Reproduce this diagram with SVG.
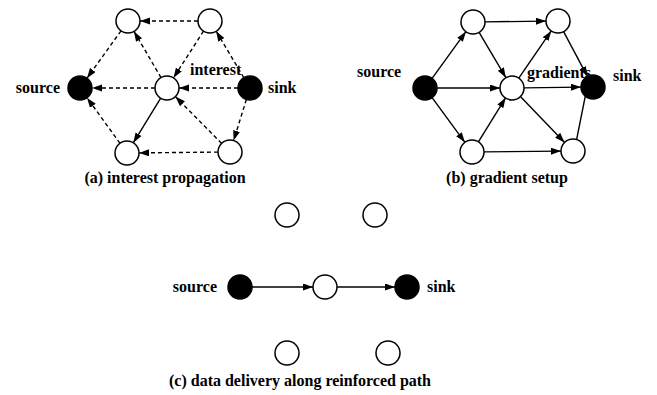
<svg xmlns="http://www.w3.org/2000/svg" width="657" height="395" viewBox="0 0 657 395">
<style>
.n{fill:#fff;stroke:#000;stroke-width:1.5}
.f{fill:#000;stroke:#000;stroke-width:1.5}
.e{fill:none;stroke:#000;stroke-width:1.4;marker-end:url(#ah)}
.d{stroke-dasharray:4 3}
text{font-family:'Liberation Serif','DejaVu Serif',serif;font-size:16px;font-weight:bold;fill:#000}
</style>
<defs>
<marker id="ah" markerUnits="userSpaceOnUse" markerWidth="10" markerHeight="8" refX="10" refY="3.5" orient="auto">
<path d="M0,0 L10,3.5 L0,7 z" fill="#000"/>
</marker>
</defs>
<rect width="657" height="395" fill="#fff"/>
<g id="connectors">
<line class="e d" x1="198" y1="21" x2="140" y2="21"/>
<line class="e d" x1="121" y1="30.8" x2="87" y2="78.2"/>
<line class="e d" x1="161" y1="77.6" x2="134" y2="31.4"/>
<line class="e d" x1="203.5" y1="31.1" x2="173.5" y2="77.9"/>
<line class="e d" x1="243.8" y1="77.7" x2="216.2" y2="31.3"/>
<line class="e d" x1="155" y1="88" x2="92" y2="88"/>
<line class="e d" x1="238" y1="88" x2="179" y2="88"/>
<line class="e d" x1="246.4" y1="99.4" x2="233.6" y2="140.6"/>
<line class="e d" x1="221.6" y1="143.4" x2="175.4" y2="96.6"/>
<line class="e d" x1="218" y1="152.1" x2="139" y2="152.9"/>
<line class="e d" x1="120" y1="143.3" x2="87" y2="97.7"/>
<line class="e" x1="160.7" y1="98.2" x2="133.3" y2="142.8"/>
<line class="e" x1="432.1" y1="78.3" x2="465.9" y2="31.7"/>
<line class="e" x1="437" y1="88" x2="500" y2="88"/>
<line class="e" x1="432.1" y1="97.7" x2="464.9" y2="142.3"/>
<line class="e" x1="485" y1="21.9" x2="546" y2="21.1"/>
<line class="e" x1="479.1" y1="32.3" x2="505.9" y2="77.7"/>
<line class="e" x1="478.4" y1="141.8" x2="505.6" y2="97.8"/>
<line class="e" x1="484" y1="151.9" x2="561" y2="151.1"/>
<line class="e" x1="518.8" y1="78.1" x2="551.2" y2="30.9"/>
<line class="e" x1="524" y1="87.9" x2="581" y2="87.1"/>
<line class="e" x1="520.4" y1="96.6" x2="564.6" y2="142.4"/>
<line class="e" x1="563.6" y1="31.6" x2="587.4" y2="76.4"/>
<line class="e" x1="576.6" y1="139.6" x2="589.4" y2="75.6"/>
<line class="e" x1="252" y1="287" x2="313" y2="287"/>
<line class="e" x1="337" y1="287" x2="395" y2="287"/>
</g>
<g id="a-top-left"><circle class="n" cx="128" cy="21" r="12"/></g>
<g id="a-top-right"><circle class="n" cx="210" cy="21" r="12"/></g>
<g id="a-source"><circle class="f" cx="80" cy="88" r="12"/><text x="60" y="93" text-anchor="end">source</text></g>
<g id="a-center"><circle class="n" cx="167" cy="88" r="12"/></g>
<g id="a-sink"><circle class="f" cx="250" cy="88" r="12"/><text x="268" y="93">sink</text></g>
<g id="a-bottom-left"><circle class="n" cx="127" cy="153" r="12"/></g>
<g id="a-bottom-right"><circle class="n" cx="230" cy="152" r="12"/></g>
<text x="190" y="75">interest</text>
<text x="165" y="183" text-anchor="middle">(a) interest propagation</text>
<g id="b-source"><circle class="f" cx="425" cy="88" r="12"/><text x="357" y="77">source</text></g>
<g id="b-top-left"><circle class="n" cx="473" cy="22" r="12"/></g>
<g id="b-top-right"><circle class="n" cx="558" cy="21" r="12"/></g>
<g id="b-center"><circle class="n" cx="512" cy="88" r="12"/></g>
<g id="b-bottom-left"><circle class="n" cx="472" cy="152" r="12"/></g>
<g id="b-bottom-right"><circle class="n" cx="573" cy="151" r="12"/></g>
<text x="527" y="78">gradients</text>
<g id="b-sink"><circle class="f" cx="593" cy="87" r="12"/><text x="613" y="81">sink</text></g>
<text x="507" y="183" text-anchor="middle">(b) gradient setup</text>
<g id="c-top-left"><circle class="n" cx="287" cy="215" r="12"/></g>
<g id="c-top-right"><circle class="n" cx="375" cy="215" r="12"/></g>
<g id="c-source"><circle class="f" cx="240" cy="287" r="12"/><text x="217" y="292" text-anchor="end">source</text></g>
<g id="c-center"><circle class="n" cx="325" cy="287" r="12"/></g>
<g id="c-sink"><circle class="f" cx="407" cy="287" r="12"/><text x="427" y="292">sink</text></g>
<g id="c-bottom-left"><circle class="n" cx="287" cy="353" r="12"/></g>
<g id="c-bottom-right"><circle class="n" cx="388" cy="353" r="12"/></g>
<text x="300" y="386" text-anchor="middle">(c) data delivery along reinforced path</text>
</svg>
